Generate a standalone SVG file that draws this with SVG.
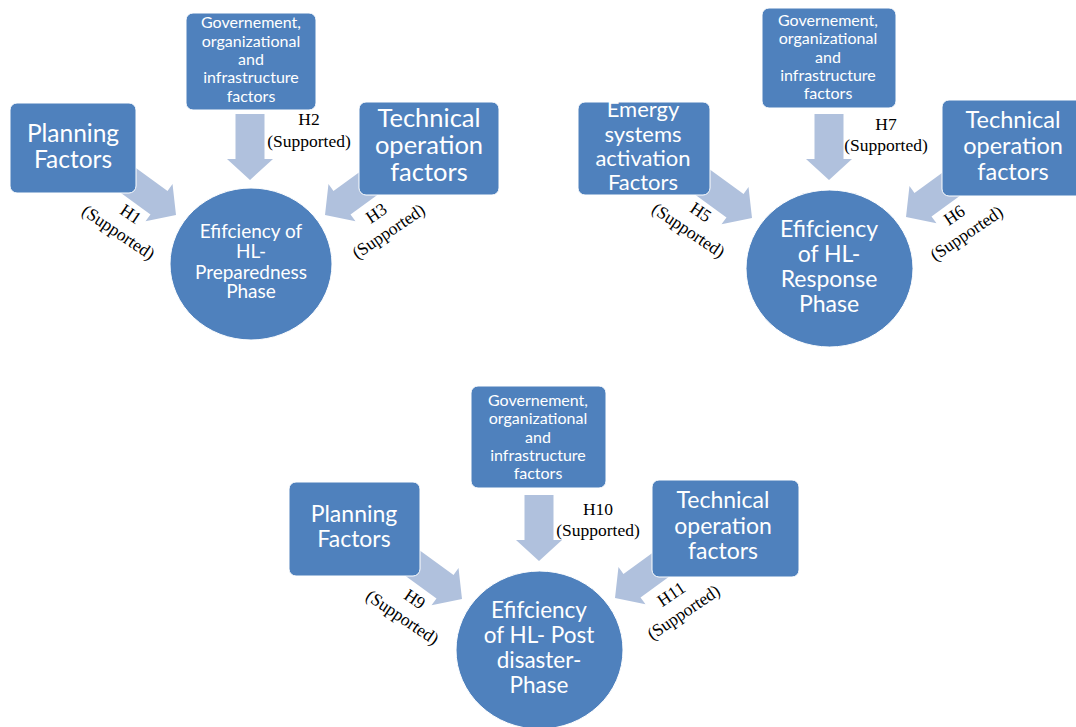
<svg xmlns="http://www.w3.org/2000/svg" width="1076" height="727" viewBox="0 0 1076 727">
<style>
.box{fill:#4F81BD;stroke:#ffffff;stroke-width:1}
.arr{fill:#B0C1DD}
.t{fill:#ffffff;font-family:Lato,"Liberation Sans",sans-serif;text-anchor:middle}
.g{font-size:16px}
.big{font-size:23.5px}
.lbl{fill:#000000;font-family:"Liberation Serif","Times New Roman",serif;font-size:17.5px;text-anchor:middle}
</style>
<defs>
<path id="ar" d="M0,0 L-21,-23 L-21,-14.5 L-66,-14.5 L-66,14.5 L-21,14.5 L-21,23 Z"/>
</defs>
<rect width="1076" height="727" fill="#ffffff"/>
<g id="connectors">
<use href="#ar" class="arr" transform="translate(250,180) rotate(90)"/>
<use href="#ar" class="arr" transform="translate(176,215) rotate(36)"/>
<use href="#ar" class="arr" transform="translate(325,215) rotate(144)"/>
<use href="#ar" class="arr" transform="translate(829,180) rotate(90)"/>
<use href="#ar" class="arr" transform="translate(752,218) rotate(36)"/>
<use href="#ar" class="arr" transform="translate(906,217) rotate(144)"/>
<use href="#ar" class="arr" transform="translate(539,561) rotate(90)"/>
<use href="#ar" class="arr" transform="translate(462,599) rotate(36)"/>
<use href="#ar" class="arr" transform="translate(615,598) rotate(144)"/>
<text class="lbl" x="309" y="125">H2</text>
<text class="lbl" x="309" y="147">(Supported)</text>
<g transform="translate(118,233) rotate(34)"><text class="lbl" x="0" y="-17">H1</text><text class="lbl" x="0" y="5">(Supported)</text></g>
<g transform="translate(389,232) rotate(-34)"><text class="lbl" x="0" y="-17">H3</text><text class="lbl" x="0" y="5">(Supported)</text></g>
<text class="lbl" x="886" y="130">H7</text>
<text class="lbl" x="886" y="151">(Supported)</text>
<g transform="translate(688,231) rotate(34)"><text class="lbl" x="0" y="-17">H5</text><text class="lbl" x="0" y="5">(Supported)</text></g>
<g transform="translate(967,234) rotate(-34)"><text class="lbl" x="0" y="-17">H6</text><text class="lbl" x="0" y="5">(Supported)</text></g>
<text class="lbl" x="598" y="515">H10</text>
<text class="lbl" x="598" y="536">(Supported)</text>
<g transform="translate(402,618) rotate(34)"><text class="lbl" x="0" y="-17">H9</text><text class="lbl" x="0" y="5">(Supported)</text></g>
<g transform="translate(684,613) rotate(-34)"><text class="lbl" x="0" y="-17">H11</text><text class="lbl" x="0" y="5">(Supported)</text></g>
</g>
<g id="planning1"><rect class="box" x="10" y="103" width="126" height="90" rx="7"/>
<text class="t" style="font-size:24.5px" x="73" y="142">Planning</text><text class="t" style="font-size:24.5px" x="73" y="168">Factors</text></g>
<g id="gov1"><rect class="box" x="186" y="13" width="130" height="97" rx="7"/>
<text class="t g" x="251" y="28">Governement,</text><text class="t g" x="251" y="47">organizational</text><text class="t g" x="251" y="65">and</text><text class="t g" x="251" y="83">infrastructure</text><text class="t g" x="251" y="102">factors</text></g>
<g id="tech1"><rect class="box" x="359" y="102" width="140" height="93" rx="7"/>
<text class="t" style="font-size:25.5px" x="429" y="127">Technical</text><text class="t" style="font-size:25.5px" x="429" y="154">operation</text><text class="t" style="font-size:25.5px" x="429" y="181">factors</text></g>
<g id="phase1"><ellipse class="box" cx="251" cy="264" rx="81" ry="76"/>
<text class="t" style="font-size:19px" x="251" y="238">Efifciency of</text><text class="t" style="font-size:19px" x="251" y="258">HL-</text><text class="t" style="font-size:19px" x="251" y="279">Preparedness</text><text class="t" style="font-size:19px" x="251" y="298">Phase</text></g>
<g id="emergy2"><rect class="box" x="578" y="102" width="132" height="93" rx="7"/>
<text class="t" style="font-size:22px" x="643" y="117">Emergy</text><text class="t" style="font-size:22px" x="643" y="142">systems</text><text class="t" style="font-size:22px" x="643" y="166">activation</text><text class="t" style="font-size:22px" x="643" y="190">Factors</text></g>
<g id="gov2"><rect class="box" x="762" y="8" width="134" height="100" rx="7"/>
<text class="t g" x="828" y="26">Governement,</text><text class="t g" x="828" y="44">organizational</text><text class="t g" x="828" y="63">and</text><text class="t g" x="828" y="81">infrastructure</text><text class="t g" x="828" y="99">factors</text></g>
<g id="tech2"><rect class="box" x="942" y="100" width="145" height="96" rx="7"/>
<text class="t big" x="1013" y="128">Technical</text><text class="t big" x="1013" y="154">operation</text><text class="t big" x="1013" y="180">factors</text></g>
<g id="phase2"><ellipse class="box" cx="829.5" cy="268.5" rx="83.5" ry="78.5"/>
<text class="t" style="font-size:23px" x="829" y="237">Efifciency</text><text class="t" style="font-size:23px" x="829" y="262">of HL-</text><text class="t" style="font-size:23px" x="829" y="287">Response</text><text class="t" style="font-size:23px" x="829" y="312">Phase</text></g>
<g id="planning3"><rect class="box" x="289" y="482" width="131" height="94" rx="7"/>
<text class="t" style="font-size:23px" x="354" y="522">Planning</text><text class="t" style="font-size:23px" x="354" y="547">Factors</text></g>
<g id="gov3"><rect class="box" x="471" y="386" width="135" height="102" rx="7"/>
<text class="t g" x="538" y="406">Governement,</text><text class="t g" x="538" y="424">organizational</text><text class="t g" x="538" y="443">and</text><text class="t g" x="538" y="461">infrastructure</text><text class="t g" x="538" y="479">factors</text></g>
<g id="tech3"><rect class="box" x="652" y="480" width="147" height="97" rx="7"/>
<text class="t" style="font-size:23px" x="723" y="508">Technical</text><text class="t" style="font-size:23px" x="723" y="534">operation</text><text class="t" style="font-size:23px" x="723" y="559">factors</text></g>
<g id="phase3"><ellipse class="box" cx="539.5" cy="650" rx="83.5" ry="79"/>
<text class="t" style="font-size:22.5px" x="539" y="618">Efifciency</text><text class="t" style="font-size:22.5px" x="539" y="643">of HL- Post</text><text class="t" style="font-size:22.5px" x="539" y="668">disaster-</text><text class="t" style="font-size:22.5px" x="539" y="693">Phase</text></g>
</svg>
